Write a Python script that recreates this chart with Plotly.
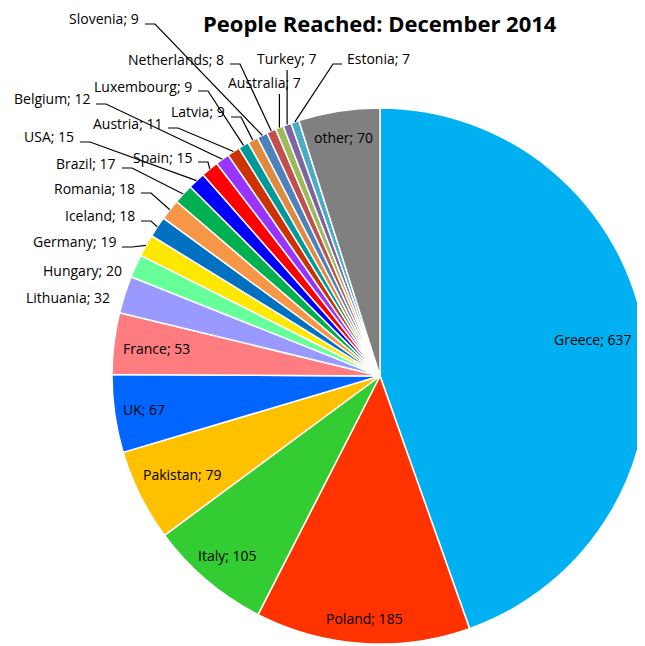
import math
import plotly.graph_objects as go

# ---------------------------------------------------------------------------
# Data
# ---------------------------------------------------------------------------
countries = ["Greece", "Poland", "Italy", "Pakistan", "UK", "France", "Lithuania",
             "Hungary", "Germany", "Iceland", "Romania", "Brazil", "USA", "Spain",
             "Belgium", "Austria", "Luxembourg", "Latvia", "Slovenia", "Netherlands",
             "Australia", "Turkey", "Estonia", "other"]
people = [637, 185, 105, 79, 67, 53, 32, 20, 19, 18, 18, 17, 15, 15,
          12, 11, 9, 9, 9, 8, 7, 7, 7, 70]
colours = ["#00B0F0", "#FF3300", "#33CC33", "#FFC000", "#0066FF", "#FF7C80", "#9999FF",
           "#66FF99", "#FFE800", "#0070C0", "#F79646", "#00B050", "#0000FF", "#FF0000",
           "#9933FF", "#CC3300", "#009999", "#E08A3E", "#4F81BD", "#C0504D",
           "#9BBB59", "#8064A2", "#4BACC6", "#808080"]
title = "People Reached: December 2014"

# ---------------------------------------------------------------------------
# Layout geometry, in page pixels (the plot div sits 8px in from the corner)
# ---------------------------------------------------------------------------
W, H = 645, 646
OFF = 8
CX, CY, R = 380, 376, 268
FONT = "Open Sans"

# labels drawn inside their slice: radial position as fraction of radius
inside_r = {"Greece": 0.806, "Poland": 0.905, "Italy": 0.88, "Pakistan": 0.825,
            "UK": 0.888, "France": 0.84, "other": 0.9}

# labels outside the pie: (xanchor, x, y, leader style)
outside = {
    "Lithuania":   ("right", 112, 297, None),
    "Hungary":     ("right", 124, 270, None),
    "Germany":     ("right", 118, 242, "elbow"),
    "Iceland":     ("right", 137, 216, "elbow"),
    "Romania":     ("right", 137, 188, "elbow"),
    "Brazil":      ("right", 118, 163, "elbow"),
    "USA":         ("right", 76, 137, "elbow"),
    "Spain":       ("right", 194, 157, "elbow"),
    "Belgium":     ("right", 92, 99, "elbow"),
    "Austria":     ("right", 164, 123, "elbow"),
    "Luxembourg":  ("right", 194, 86, "elbow"),
    "Latvia":      ("right", 227, 112, "elbow"),
    "Slovenia":    ("right", 141, 19, "elbow"),
    "Netherlands": ("right", 226, 59, "elbow"),
    "Australia":   ("center", 264, 82, "drop"),
    "Turkey":      ("center", 287, 58, "drop"),
    "Estonia":     ("left", 345, 58, "elbow"),
}


def px(x):
    return (x - OFF) / W


def py(y):
    return 1 - (y - OFF) / H


def slice_point(i, frac):
    """Point at mid-angle of slice i, frac * R from the centre (pixels)."""
    total = sum(people)
    before = sum(people[:i])
    ang = (before + people[i] / 2) / total * 2 * math.pi
    return CX + frac * R * math.sin(ang), CY - frac * R * math.cos(ang)


fig = go.Figure(go.Pie(
    labels=countries, values=people,
    sort=False, direction="clockwise", rotation=0,
    marker=dict(colors=colours, line=dict(color="white", width=1.5)),
    textinfo="none",
    hovertemplate="%{label}; %{value}<extra></extra>",
    domain=dict(x=[px(CX - R), px(CX + R)], y=[py(CY + R), py(CY - R)]),
    showlegend=False,
))

annotations = []
shapes = []
for i, name in enumerate(countries):
    text = f"{name}; {people[i]}"
    if name in inside_r:
        x, y = slice_point(i, inside_r[name])
        annotations.append(dict(x=px(x), y=py(y), xref="paper", yref="paper",
                                text=text, showarrow=False, xanchor="center",
                                yanchor="middle", font=dict(family=FONT, size=14, color="black")))
        continue
    anchor, x, y, style = outside[name]
    annotations.append(dict(x=px(x), y=py(y), xref="paper", yref="paper",
                            text=text, showarrow=False, xanchor=anchor,
                            yanchor="middle", font=dict(family=FONT, size=14, color="black")))
    ex, ey = slice_point(i, 1.0)
    if style == "elbow":
        if anchor == "right":
            pts = [(x + 4, y + 5), (x + 14, y + 5), (ex, ey)]
        else:
            pts = [(x - 3, y + 6), (x - 12, y + 6), (ex, ey)]
    elif style == "drop":
        pts = [(ex, y + 12), (ex, ey)]
    else:
        continue
    path = "M " + " L ".join(f"{px(a):.5f},{py(b):.5f}" for a, b in pts)
    shapes.append(dict(type="path", path=path, xref="paper", yref="paper",
                       line=dict(color="black", width=1.2)))

annotations.append(dict(x=px(380), y=py(23), xref="paper", yref="paper",
                        text=f"<b>{title}</b>", showarrow=False,
                        xanchor="center", yanchor="middle",
                        font=dict(family=FONT, size=22, color="black")))

fig.update_layout(
    width=W, height=H,
    margin=dict(l=0, r=0, t=0, b=0),
    paper_bgcolor="white",
    annotations=annotations,
    shapes=shapes,
)

fig.write_html("out.html")
